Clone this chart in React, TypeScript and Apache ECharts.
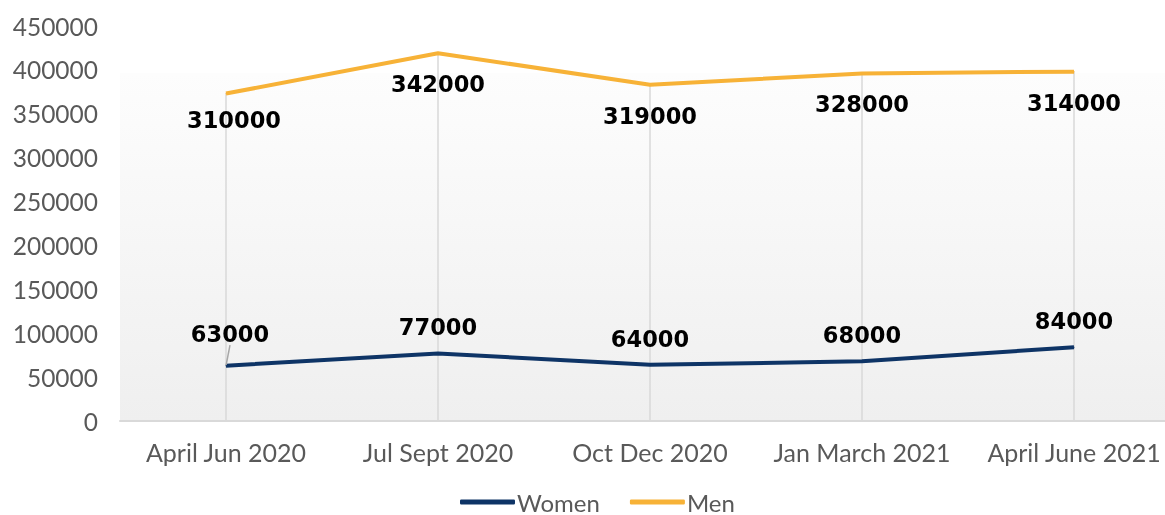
import React, { useEffect, useRef } from "react";
import * as echarts from "echarts";

const categories = ["April Jun 2020", "Jul Sept 2020", "Oct Dec 2020", "Jan March 2021", "April June 2021"];
const women = [63000, 77000, 64000, 68000, 84000];
const men = [310000, 342000, 319000, 328000, 314000];
const yTicks = { min: 0, max: 450000, interval: 50000 };

export default function App() {
  const ref = useRef<HTMLDivElement>(null);
  useEffect(() => {
    if (!ref.current) return;
    const chart = echarts.init(ref.current, undefined, { renderer: "svg" });
    const totals = women.map((w, i) => w + men[i]);
    const labelFont = { fontFamily: "DejaVu Sans", fontWeight: "bold" as const, fontSize: 22.5, color: "#000" };
    chart.setOption({
      animation: false,
      grid: {
        left: 120,
        right: 0,
        top: 26,
        bottom: 94,
        show: true,
        borderWidth: 0,
        backgroundColor: {
          type: "linear",
          x: 0, y: 0, x2: 0, y2: 1,
          colorStops: [
            { offset: 0, color: "#ffffff" },
            { offset: 0.118, color: "#ffffff" },
            { offset: 0.12, color: "#fdfdfd" },
            { offset: 1, color: "#efefef" },
          ],
        },
      },
      legend: {
        top: 490,
        left: 460,
        padding: 0,
        itemWidth: 55,
        itemHeight: 5,
        itemGap: 30,
        textStyle: { fontFamily: "Lato", fontSize: 24, lineHeight: 22, color: "#595959", padding: [0, 0, 0, -3] },
        data: [
          { name: "Women", icon: "roundRect" },
          { name: "Men", icon: "roundRect" },
        ],
      },
      xAxis: {
        type: "category",
        data: categories,
        boundaryGap: true,
        axisLine: { lineStyle: { color: "#d9d9d9", width: 2 } },
        axisTick: { show: false },
        splitLine: { show: false },
        axisLabel: { fontFamily: "Lato", fontSize: 25, color: "#595959", margin: 18, interval: 0 },
      },
      yAxis: {
        type: "value",
        min: yTicks.min,
        max: yTicks.max,
        interval: yTicks.interval,
        axisLine: { show: false },
        axisTick: { show: false },
        splitLine: { show: false },
        axisLabel: { fontFamily: "Lato", fontSize: 24.5, color: "#595959", margin: 22, formatter: (v: number) => String(v) },
      },
      series: [
        {
          name: "Women",
          type: "line",
          stack: "total",
          symbol: "circle",
          symbolSize: 1,
          showSymbol: true,
          z: 3,
          lineStyle: { color: "#0e3466", width: 4 },
          itemStyle: { color: "#0e3466" },
          data: women.map((v, i) =>
            i === 0 ? { value: v, labelLine: { show: true, lineStyle: { color: "#a6a6a6", width: 1.5 } } } : v
          ),
          label: { show: true, position: "top", distance: 14, ...labelFont },
          labelLayout: (p: any) => (p.dataIndex === 0 ? { dy: -6, dx: 4 } : {}),
        },
        {
          name: "Men",
          type: "line",
          stack: "total",
          symbol: "circle",
          symbolSize: 1,
          showSymbol: true,
          z: 3,
          lineStyle: { color: "#f7b237", width: 4 },
          itemStyle: { color: "#f7b237" },
          data: men,
          label: { show: true, position: "bottom", distance: 19, ...labelFont },
          labelLayout: (p: any) => (p.dataIndex === 0 ? { dx: 8, dy: -5 } : {}),
          markLine: {
            silent: true,
            symbol: "none",
            z: 1,
            label: { show: false },
            lineStyle: { color: "#d9d9d9", width: 1.5, type: "solid" },
            data: totals.map((t, i) => [
              { coord: [i, t] },
              { coord: [i, 0] },
            ]),
          },
        },
      ],
    });
    return () => chart.dispose();
  }, []);
  return <div ref={ref} style={{ position: "fixed", left: 0, top: 0, width: 1180, height: 515 }} />;
}
